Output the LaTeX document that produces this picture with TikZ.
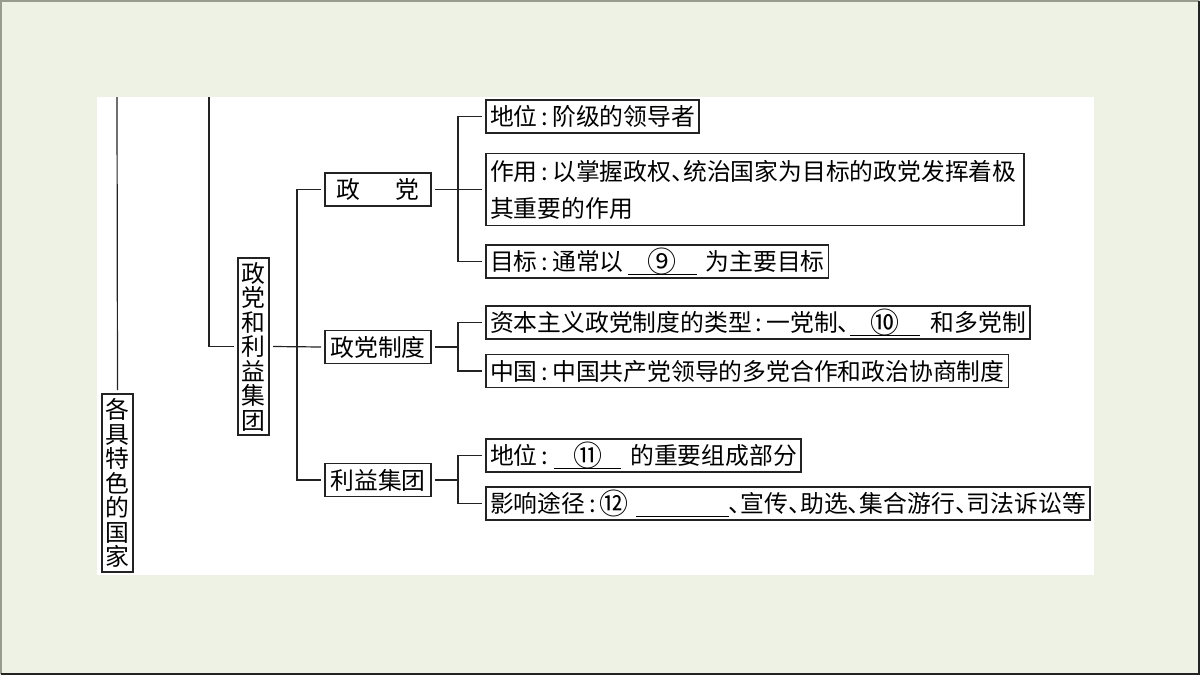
\documentclass[tikz,border=0pt]{standalone}
\usepackage{fontspec}
\setmainfont{Noto Sans CJK SC}
\usetikzlibrary{positioning}
\definecolor{pagegreen}{RGB}{237,242,228}
\definecolor{rimgray}{RGB}{150,156,142}
\definecolor{inkgray}{RGB}{35,35,35}
\newcommand\cn{\makebox[0.62em]{:}}
\newcommand\dun{\makebox[0.5em][l]{、}}
\newcommand\num[1]{\raisebox{-2pt}{\fontsize{29}{29}\selectfont #1}}
\newcommand\blank[2]{\makebox[#1]{#2}\llap{\rule[-5pt]{#1}{1.4pt}}}

\begin{document}
\begin{tikzpicture}[x=1pt, y=-1pt,
  box/.style={draw=inkgray, line width=1.4pt, inner xsep=4pt, inner ysep=0pt, minimum height=33pt, outer sep=4pt, font=\fontsize{23.8}{37}\selectfont},
  vbox/.style={box, align=center, minimum width=31pt, inner xsep=0pt, font=\fontsize{23.8}{24.5}\selectfont},
  link/.style={draw=inkgray, line width=1.2pt}]
\useasboundingbox (0,0) rectangle (1200,675);
\fill[pagegreen] (0,0) rectangle (1200,675);
\draw[rimgray, line width=2pt] (1,674) -- (1,1) -- (1199,1);
\draw[inkgray, line width=2pt] (1,674) -- (1199,674) -- (1199,1);
\fill[white] (97,97) rectangle (1094,575);

% left column
\node[vbox, minimum height=178pt] (gj) at (117.5,483) {各\\具\\特\\色\\的\\国\\家};
\node[vbox, minimum height=177pt] (zl) at (253.5,346.5) {政\\党\\和\\利\\益\\集\\团};

% middle column
\node[box, minimum width=106pt] (zd) at (378,189.5) {政\hspace{1.5em}党};
\node[box, minimum width=106pt] (zdzd) at (378,347) {政党制度};
\node[box, minimum width=106pt] (ly) at (378,480) {利益集团};

% right column
\node[box, anchor=west] (dw) at (482,116.5) {地位\cn 阶级的领导者};
\node[box, anchor=west, text width=530pt, align=left, minimum height=72pt] (zy) at (482,189.5) {作用\cn 以掌握政权\dun 统治国家为目标的政党发挥着极\\其重要的作用};
\node[box, anchor=west] (mb) at (482,261.5) {目标\cn 通常以\hspace{4pt}\blank{69pt}{\num{⑨}}\hspace{9pt}为主要目标};
\node[box, anchor=west] (zb) at (482,322.5) {资本主义政党制度的类型\cn 一党制\dun\blank{70pt}{\num{⑩}}\hspace{11pt}和多党制};
\node[box, anchor=west] (zg) at (482,371) {中国\cn 中国共产党领导的多党合作和政治协商制度};
\node[box, anchor=west] (dw2) at (482,455.5) {地位\cn\hspace{2pt}\blank{67pt}{\num{⑪}}\hspace{9pt}的重要组成部分};
\node[box, anchor=west] (yx) at (482,503.5) {影响途径\cn\num{⑫}\hspace{7pt}\blank{93pt}{}\dun 宣传\dun 助选\dun 集合游行\dun 司法诉讼等};

% connectors
\coordinate (topA) at (117,97);
\coordinate (topB) at (209,97);
\coordinate (jB) at (297,347);
\coordinate (jZ) at (458,189.5);
\coordinate (jD) at (458,347);
\coordinate (jL) at (458,480);
\draw[link] (topA) -- (gj.north);
\draw[link] (topB) |- (zl.west);
\draw[link] (zl.east) -- (zdzd.west);
\draw[link] (zd.west) -| (jB) |- (ly.west);
\draw[link] (zd.east) -- (zy.west);
\draw[link] (dw.west) -| (jZ) |- (mb.west);
\draw[link] (zdzd.east) -- (jD);
\draw[link] (zb.west) -| (jD) |- (zg.west);
\draw[link] (ly.east) -- (jL);
\draw[link] (dw2.west) -| (jL) |- (yx.west);
\end{tikzpicture}
\end{document}
